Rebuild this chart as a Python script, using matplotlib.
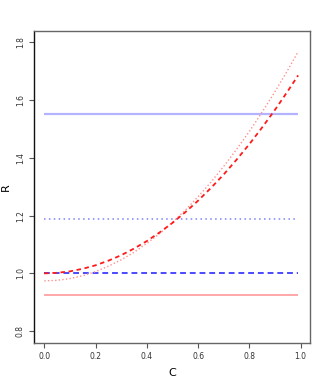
import matplotlib
matplotlib.use('Agg')
import matplotlib.pyplot as plt

# data
c_vals = [0.00, 0.05, 0.10, 0.15, 0.20, 0.25, 0.30, 0.35, 0.40, 0.45, 0.50,
          0.55, 0.60, 0.65, 0.70, 0.75, 0.80, 0.85, 0.90, 0.95, 0.99]
r_dashed = [1.000, 1.002, 1.007, 1.016, 1.028, 1.044, 1.063, 1.086, 1.112, 1.142, 1.175,
            1.212, 1.252, 1.296, 1.343, 1.394, 1.448, 1.506, 1.567, 1.632, 1.686]
r_dotted = [0.974, 0.976, 0.982, 0.992, 1.006, 1.025, 1.047, 1.073, 1.104, 1.138, 1.177,
            1.219, 1.266, 1.316, 1.371, 1.430, 1.492, 1.559, 1.630, 1.705, 1.768]
c_range = [0.0, 0.99]
blue_solid = 1.553
blue_dotted = 1.187
blue_dashed = 1.003
red_solid = 0.926

xticks = [0.0, 0.2, 0.4, 0.6, 0.8, 1.0]
yticks = [0.8, 1.0, 1.2, 1.4, 1.6, 1.8]

fig = plt.figure(figsize=(3.27, 3.82), dpi=100)
ax = fig.add_axes([0.104, 0.103, 0.843, 0.816])

# horizontal reference levels
ax.plot(c_range, [blue_solid] * 2, color='#b3b3ff', lw=1.6, solid_capstyle='butt')
ax.plot(c_range, [blue_dotted] * 2, color='#8080ff', lw=1.1, ls=(0, (1, 2.2)))
ax.plot(c_range, [blue_dashed] * 2, color='#4a4aff', lw=1.4, ls=(0, (3, 2)))
ax.plot(c_range, [red_solid] * 2, color='#ff9a9a', lw=1.2, solid_capstyle='butt')

# curves
ax.plot(c_vals, r_dotted, color='#ff9090', lw=1.0, ls=(0, (1, 1.6)))
ax.plot(c_vals, r_dashed, color='#ff1a1a', lw=1.3, ls=(0, (2.5, 2)))

ax.set_xlim(-0.04, 1.035)
ax.set_ylim(0.76, 1.84)
ax.set_xticks(xticks)
ax.set_xticklabels([f'{v:.1f}' for v in xticks], fontsize=5.5, color='#333333')
ax.set_yticks(yticks)
ax.set_yticklabels([f'{v:.1f}' for v in yticks], fontsize=5.5, rotation=90,
                   va='center', color='#333333')
ax.tick_params(axis='both', length=3.5, width=0.8, color='#555555', pad=3)

for side in ['top', 'right', 'bottom']:
    ax.spines[side].set_color('#666666')
    ax.spines[side].set_linewidth(1.0)
ax.spines['left'].set_color('#111111')
ax.spines['left'].set_linewidth(1.0)

ax.set_xlabel('C', fontsize=8, labelpad=5)
# y label placed by hand so it sits at the very left edge
fig.text(6 / 327, 1 - 187 / 382, 'R', fontsize=8, rotation=90,
         ha='center', va='center')

fig.savefig('out.png', dpi=100)
